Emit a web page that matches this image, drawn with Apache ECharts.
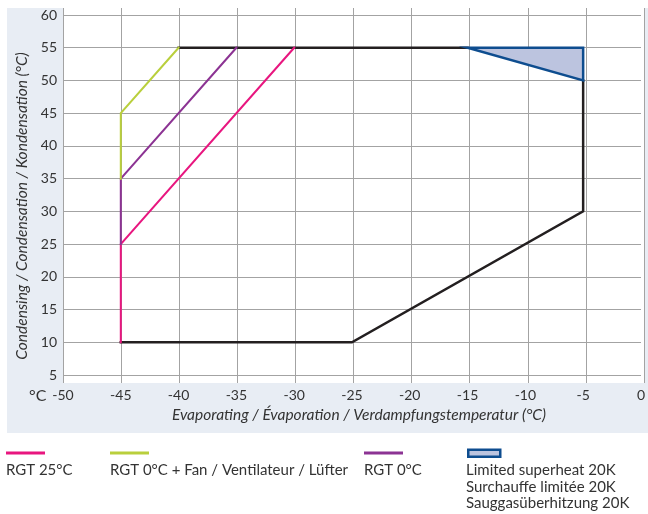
<!DOCTYPE html>
<html>
<head>
<meta charset="utf-8">
<script src="https://cdn.jsdelivr.net/npm/echarts@6/dist/echarts.min.js"></script>
<style>
  html, body { margin: 0; padding: 0; background: #ffffff; }
  #wrap { position: relative; width: 648px; height: 514px; }
  #panel { position: absolute; left: 7px; top: 8px; width: 641px; height: 425px; background: #e8edf4; }
  #chart { position: absolute; left: 0; top: 0; width: 648px; height: 514px; }
</style>
</head>
<body>
<div id="wrap">
  <div id="panel"></div>
  <div id="chart"></div>
</div>
<script>
// Operating envelope (evaporating / condensing temperature, °C)
const envelopeTop = [[-40, 55], [-15, 55]];
const envelopeOuter = [[-5, 50], [-5, 30], [-25, 10], [-45, 10]];
const rgt25 = [[-45, 10], [-45, 25], [-30, 55]];
const rgt0 = [[-45, 25], [-45, 35], [-35, 55]];
const rgt0Fan = [[-45, 35], [-45, 45], [-40, 55]];
const superheat = [[-15, 55], [-5, 55], [-5, 50]];

const xRange = [-50, 0];
const yRange = [5, 60];

const legendItems = [
  { name: 'RGT 25°C', color: '#e8167f', kind: 'line', x: 6 },
  { name: 'RGT 0°C + Fan / Ventilateur / Lüfter', color: '#b9cf3c', kind: 'line', x: 110 },
  { name: 'RGT 0°C', color: '#8c3393', kind: 'line', x: 364 },
  { name: 'Limited superheat 20K\nSurchauffe limitée 20K\nSauggasüberhitzung 20K', color: '#0e4d8f', kind: 'box', x: 466 }
];

const FONT = 'Lato, sans-serif';
const TXT = '#333333';
const GRIDC = '#a3a3a3';

const chart = echarts.init(document.getElementById('chart'));

function lineSeries(name, data, color, width, z) {
  return {
    name, type: 'line', data, xAxisIndex: 0, yAxisIndex: 0,
    showSymbol: false, symbol: 'none', animation: false, z,
    lineStyle: { color, width, cap: 'square', join: 'miter' }
  };
}

const legendGraphics = [];
legendItems.forEach(item => {
  if (item.kind === 'line') {
    legendGraphics.push({
      type: 'rect', left: item.x, top: 451.5, shape: { width: 39, height: 3 },
      style: { fill: item.color }
    });
  } else {
    legendGraphics.push({
      type: 'rect', left: item.x + 1, top: 448.5, shape: { width: 32, height: 7 },
      style: { fill: '#bcc4df', stroke: item.color, lineWidth: 2.5 }
    });
  }
  legendGraphics.push({
    type: 'text', left: item.x, top: 462,
    style: { text: item.name, fill: TXT, font: '15px ' + FONT, lineHeight: 16.5 }
  });
});

chart.setOption({
  animation: false,
  grid: [
    { left: 63, right: 4, top: 15, bottom: 139, show: false },
    { left: 63, right: 4, top: 8, bottom: 131, show: true, backgroundColor: '#ffffff', borderWidth: 0 }
  ],
  xAxis: [
    {
      type: 'value', gridIndex: 0, min: xRange[0], max: xRange[1], interval: 5,
      axisLine: { show: false }, axisTick: { show: false }, splitLine: { show: false },
      axisLabel: { color: TXT, fontSize: 14, fontFamily: FONT, margin: 13 },
      name: 'Evaporating / Évaporation / Verdampfungstemperatur (°C)',
      nameLocation: 'middle', nameGap: 32,
      nameTextStyle: { color: TXT, fontSize: 15.5, fontStyle: 'italic', fontFamily: FONT, padding: [0, 0, 0, 14] }
    },
    {
      type: 'value', gridIndex: 1, min: xRange[0], max: xRange[1], interval: 5,
      axisLine: { show: false }, axisTick: { show: false }, axisLabel: { show: false },
      splitLine: { show: true, lineStyle: { color: GRIDC, width: 1 } }
    }
  ],
  yAxis: [
    {
      type: 'value', gridIndex: 0, min: yRange[0], max: yRange[1], interval: 5,
      axisLine: { show: false },
      axisTick: { show: true, length: 3, lineStyle: { color: GRIDC } },
      splitLine: { show: true, lineStyle: { color: GRIDC, width: 1 } },
      axisLabel: { color: TXT, fontSize: 14, fontFamily: FONT, margin: 6 },
      name: 'Condensing / Condensation / Kondensation (°C)',
      nameLocation: 'middle', nameGap: 31,
      nameTextStyle: { color: TXT, fontSize: 15.5, fontStyle: 'italic', fontFamily: FONT, padding: [0, 22, 0, 0] }
    },
    {
      type: 'value', gridIndex: 1, min: yRange[0], max: yRange[1],
      show: false, splitLine: { show: false }
    }
  ],
  graphic: [
    { type: 'text', left: 29, top: 388, style: { text: '°C', fill: TXT, font: '16px ' + FONT } }
  ].concat(legendGraphics),
  series: [
    lineSeries('Envelope', envelopeTop, '#231f20', 2.5, 2),
    lineSeries('Envelope outer', envelopeOuter, '#231f20', 2.5, 2),
    {
      name: 'Limited superheat 20K', type: 'custom', xAxisIndex: 0, yAxisIndex: 0, z: 4,
      renderItem: function (params, api) {
        const pts = superheat.map(p => api.coord(p));
        return {
          type: 'polygon', shape: { points: pts },
          style: { fill: '#bcc4df', stroke: '#0e4d8f', lineWidth: 2.5, lineJoin: 'miter' }
        };
      },
      data: [0]
    },
    lineSeries('RGT 25°C', rgt25, '#e8167f', 2, 3),
    lineSeries('RGT 0°C', rgt0, '#8c3393', 2, 3),
    lineSeries('RGT 0°C + Fan / Ventilateur / Lüfter', rgt0Fan, '#b9cf3c', 2, 3)
  ]
});
</script>
</body>
</html>
